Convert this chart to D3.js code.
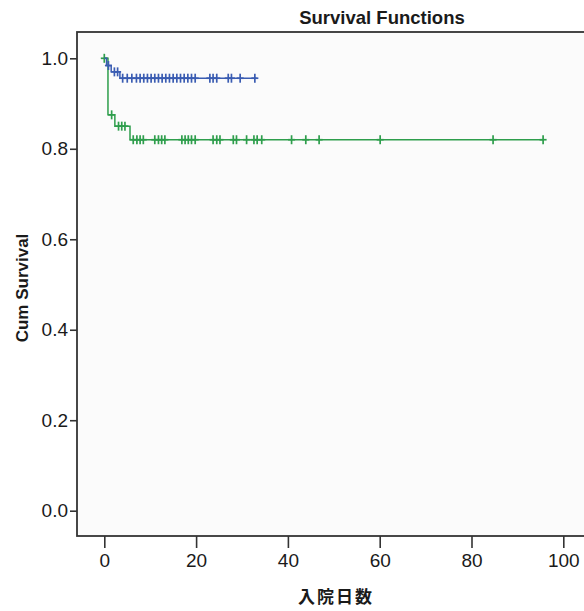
<!DOCTYPE html>
<html>
<head>
<meta charset="utf-8">
<script src="https://cdn.jsdelivr.net/npm/d3@7"></script>
<style>
  body { margin: 0; background: #fff; }
  svg { display: block; }
</style>
</head>
<body>
<div id="chart"></div>
<script>
// step times (days) and cumulative survival for each group
var blueTimes = [0, 0.5, 1.5, 3.4, 33.2];
var blueSurv  = [1.0, 0.984, 0.970, 0.956, 0.956];
var greenTimes = [0, 0.8, 2.3, 5.6, 95.6];
var greenSurv  = [1.0, 0.875, 0.850, 0.820, 0.820];

// censored cases (days)
var blueCensor = [0.9, 2.2, 2.9, 4.0, 5.0, 6.0, 7.0, 7.8, 8.6, 9.4, 10.2, 11.0, 11.8, 12.6,
                  13.4, 14.2, 15.0, 15.8, 16.6, 17.4, 18.2, 19.0, 19.8,
                  23.0, 23.7, 24.5, 27.0, 27.7, 29.6, 32.8];
var greenCensor = [0, 1.6, 3.1, 3.8, 4.5, 6.3, 7.1, 7.8, 8.5, 11.0, 11.8, 12.5, 13.2,
                   16.9, 17.6, 18.3, 19.0, 19.8, 23.7, 24.5, 25.2, 28.1, 28.8, 31.0,
                   32.6, 33.3, 34.3, 40.8, 43.9, 46.8, 60.1, 84.7, 95.6];

var xTicks = [0, 20, 40, 60, 80, 100];
var yTicks = [0.0, 0.2, 0.4, 0.6, 0.8, 1.0];

var width = 584, height = 611;
var frameLeft = 77, frameTop = 32, frameBottom = 536, frameRight = 700;

var svg = d3.select("#chart").append("svg")
    .attr("width", width)
    .attr("height", height);

// scales
var x = d3.scaleLinear().domain([0, 100]).range([104.3, 563.3]);
var y = d3.scaleLinear().domain([0, 1]).range([510.7, 58.3]);

// plot frame
svg.append("rect")
   .attr("x", frameLeft)
   .attr("y", frameTop)
   .attr("width", frameRight - frameLeft)
   .attr("height", frameBottom - frameTop)
   .attr("fill", "#fbfbfb")
   .attr("stroke", "#333")
   .attr("stroke-width", 1.8);

// axes
var yAxis = svg.append("g")
   .attr("transform", "translate(" + frameLeft + ",0)")
   .call(d3.axisLeft(y).tickValues(yTicks).tickFormat(d3.format(".1f")).tickSize(7).tickPadding(2));

var xAxis = svg.append("g")
   .attr("transform", "translate(0," + frameBottom + ")")
   .call(d3.axisBottom(x).tickValues(xTicks).tickFormat(d3.format("d")).tickSize(12).tickPadding(6));

[xAxis, yAxis].forEach(function(g) {
    g.select(".domain").remove();
    g.selectAll("line").attr("stroke", "#333").attr("stroke-width", 1.6);
    g.selectAll("text")
     .attr("fill", "#1a1a1a")
     .style("font-family", "Liberation Sans, Arial, sans-serif")
     .style("font-size", "19px");
});

// step lines
function stepData(times, surv) {
    return times.map(function(t, i) { return [t, surv[i]]; });
}
var line = d3.line()
    .x(function(d) { return x(d[0]); })
    .y(function(d) { return y(d[1]); })
    .curve(d3.curveStepAfter);

// survival level at a given time
function levelAt(times, surv, t) {
    var s = surv[0];
    for (var i = 0; i < times.length; i++) {
        if (times[i] <= t) s = surv[i];
    }
    return s;
}

var groups = [
    { times: greenTimes, surv: greenSurv, censor: greenCensor, color: "#2e9e4c" },
    { times: blueTimes, surv: blueSurv, censor: blueCensor, color: "#3a5cb2" }
];

groups.forEach(function(g) {
    svg.append("path")
       .attr("d", line(stepData(g.times, g.surv)))
       .attr("fill", "none")
       .attr("stroke", g.color)
       .attr("stroke-width", 1.5);

    var marks = svg.append("g").selectAll("g")
       .data(g.censor)
       .enter().append("g")
       .attr("transform", function(d) {
           return "translate(" + x(d) + "," + y(levelAt(g.times, g.surv, d)) + ")";
       });
    marks.append("line")
       .attr("x1", 0).attr("x2", 0).attr("y1", -4.5).attr("y2", 4.5)
       .attr("stroke", g.color).attr("stroke-width", 1.7);
    marks.append("line")
       .attr("x1", -3.5).attr("x2", 3.5).attr("y1", 0).attr("y2", 0)
       .attr("stroke", g.color).attr("stroke-width", 1.7);
});

// titles
svg.append("text")
   .attr("x", 382)
   .attr("y", 24)
   .attr("text-anchor", "middle")
   .style("font-family", "Liberation Sans, Arial, sans-serif")
   .style("font-weight", "bold")
   .style("font-size", "18.5px")
   .attr("fill", "#1a1a1a")
   .text("Survival Functions");

svg.append("text")
   .attr("transform", "translate(28,288) rotate(-90)")
   .attr("text-anchor", "middle")
   .style("font-family", "Liberation Sans, Arial, sans-serif")
   .style("font-weight", "bold")
   .style("font-size", "17px")
   .attr("fill", "#1a1a1a")
   .text("Cum Survival");

svg.append("text")
   .attr("x", 336)
   .attr("y", 603)
   .attr("text-anchor", "middle")
   .style("font-family", "Noto Sans CJK JP, sans-serif")
   .style("font-weight", "bold")
   .style("font-size", "17px")
   .style("letter-spacing", "2px")
   .attr("fill", "#1a1a1a")
   .text("入院日数");
</script>
</body>
</html>
